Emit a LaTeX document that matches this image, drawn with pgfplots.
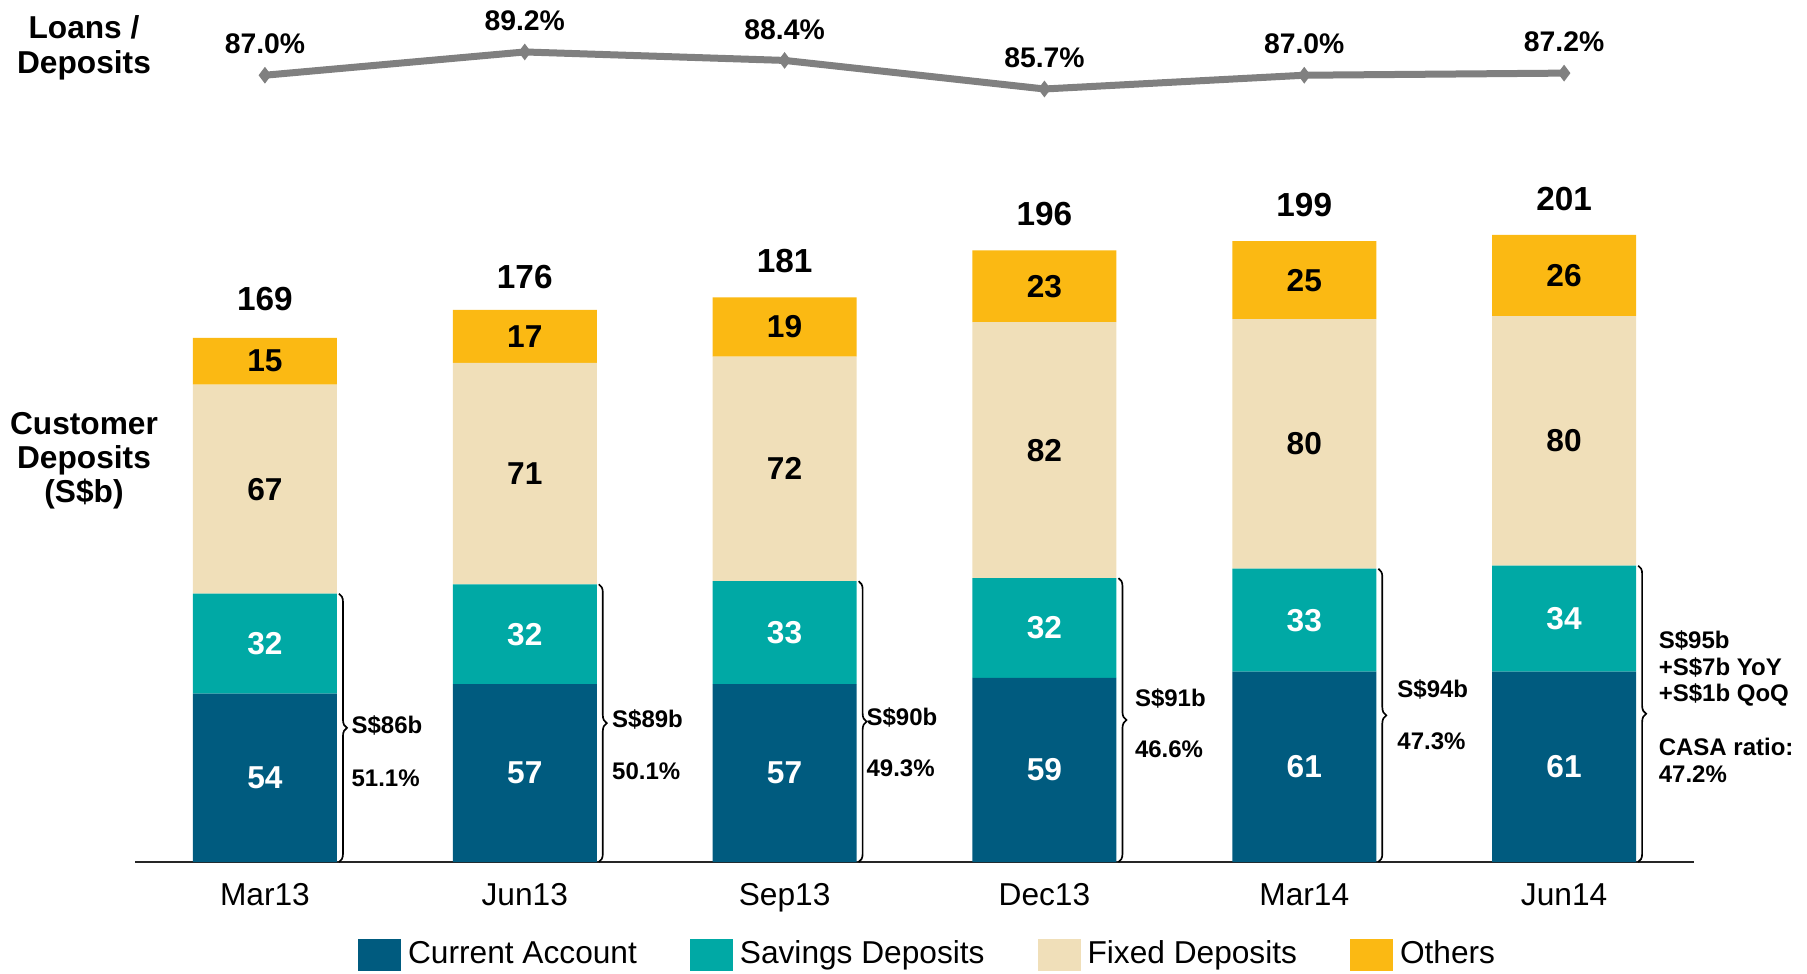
\documentclass[border=0pt]{standalone}
\usepackage{pgfplots}
\pgfplotsset{compat=1.18}
\usepackage{pgfplotstable}
\usepackage{fontspec}
\setmainfont{Liberation Sans}
\usetikzlibrary{decorations.pathreplacing}

\definecolor{caBlue}{RGB}{0,91,127}
\definecolor{saTeal}{RGB}{0,169,165}
\definecolor{fdBeige}{RGB}{240,223,185}
\definecolor{otAmber}{RGB}{251,185,19}
\definecolor{ldGray}{RGB}{128,128,128}

\newcommand\fs[2]{\fontsize{#1}{#2}\selectfont}

% customer deposits, S$b
\pgfplotstableread{
x ca sa fd ot tot
0 54 32 67 15 169
1 57 32 71 17 176
2 57 33 72 19 181
3 59 32 82 23 196
4 61 33 80 25 199
5 61 34 80 26 201
}\deposits

% loans / deposits ratio, %
\pgfplotstableread{
x ld
0 87.0
1 89.2
2 88.4
3 85.7
4 87.0
5 87.2
}\ratio

\pgfplotsset{
  /pgf/number format/assume math mode=true,
  base/.style={
    width=467.7pt, height=205.92pt, scale only axis,
    at={(40.5pt,33.3pt)}, anchor=south west,
    xmin=-0.5, xmax=5.5, ymin=0, ymax=220,
  },
}

\begin{document}
\begin{tikzpicture}
\path[use as bounding box] (0,0) rectangle (542.1pt,291.9pt);

% stacked bars
\begin{axis}[base,
    ybar stacked, bar width=43.2pt,
    axis x line*=bottom, axis y line=none,
    x axis line style={-, black!85, line width=0.6pt},
    xtick={0,...,5},
    xticklabels={Mar13,Jun13,Sep13,Dec13,Mar14,Jun14},
    major tick length=0pt,
    xticklabel style={font=\fs{9.5}{11}, yshift=-3pt},
    legend columns=4,
    legend image code/.code={\fill[#1] (0pt,-4.8pt) rectangle (12.9pt,4.8pt);},
    legend style={draw=none, fill=none, font=\fs{9.5}{11},
      at={(0.51,-0.1355)}, anchor=center,
      /tikz/every even column/.append style={column sep=14pt}},
]
\addplot[fill=caBlue, draw=none] table[x=x, y=ca] {\deposits};
\addlegendentry{Current Account}
\addplot[fill=saTeal, draw=none] table[x=x, y=sa] {\deposits};
\addlegendentry{Savings Deposits}
\addplot[fill=fdBeige, draw=none] table[x=x, y=fd] {\deposits};
\addlegendentry{Fixed Deposits}
\addplot[fill=otAmber, draw=none] table[x=x, y=ot] {\deposits};
\addlegendentry{Others}
\end{axis}

% segment labels, totals and CASA braces
\begin{axis}[base, hide axis, clip=false,
    nodes near coords, point meta=explicit,
    every node near coord/.style={anchor=center, font=\bfseries\fs{9.5}{11}},
]
\addplot[draw=none, mark=none, every node near coord/.append style={text=white}]
  table[x=x, y expr=\thisrow{ca}/2, meta=ca] {\deposits};
\addplot[draw=none, mark=none, every node near coord/.append style={text=white}]
  table[x=x, y expr=\thisrow{ca}+\thisrow{sa}/2, meta=sa] {\deposits};
\addplot[draw=none, mark=none]
  table[x=x, y expr=\thisrow{ca}+\thisrow{sa}+\thisrow{fd}/2, meta=fd] {\deposits};
\addplot[draw=none, mark=none]
  table[x=x, y expr=\thisrow{ca}+\thisrow{sa}+\thisrow{fd}+\thisrow{ot}/2, meta=ot] {\deposits};
\addplot[draw=none, mark=none,
    every node near coord/.append style={yshift=10.8pt, font=\bfseries\fs{10}{12}}]
  table[x=x, y=tot, meta=tot] {\deposits};

\tikzset{br/.style={decorate, decoration={brace, amplitude=2.4pt}, line width=0.5pt},
         bt/.style={anchor=west, inner sep=0pt, font=\bfseries\fs{7.2}{8}, align=left}}
\draw[br] (axis cs:0.285,86) -- (axis cs:0.285,0);
\draw[br] (axis cs:1.285,89) -- (axis cs:1.285,0);
\draw[br] (axis cs:2.285,90) -- (axis cs:2.285,0);
\draw[br] (axis cs:3.285,91) -- (axis cs:3.285,0);
\draw[br] (axis cs:4.285,94) -- (axis cs:4.285,0);
\draw[br] (axis cs:5.285,95) -- (axis cs:5.285,0);

\node[bt] at (axis cs:0.331,43.6) {S\$86b};
\node[bt] at (axis cs:0.331,26.9) {51.1\%};
\node[bt] at (axis cs:1.334,45.8) {S\$89b};
\node[bt] at (axis cs:1.334,29.2) {50.1\%};
\node[bt] at (axis cs:2.313,46.2) {S\$90b};
\node[bt] at (axis cs:2.313,29.9) {49.3\%};
\node[bt] at (axis cs:3.346,52.4) {S\$91b};
\node[bt] at (axis cs:3.346,36.2) {46.6\%};
\node[bt] at (axis cs:4.356,55.4) {S\$94b};
\node[bt] at (axis cs:4.356,38.8) {47.3\%};
\node[bt] at (axis cs:5.362,62.0) {S\$95b\\+S\$7b YoY\\+S\$1b QoQ};
\node[bt] at (axis cs:5.362,32.5) {CASA ratio:\\47.2\%};
\end{axis}

% loans / deposits line
\begin{axis}[width=467.7pt, height=15.87pt, scale only axis,
    at={(40.5pt,262.98pt)}, anchor=south west,
    xmin=-0.5, xmax=5.5, ymin=85, ymax=90, hide axis, clip=false]
\addplot[ldGray, line width=2.1pt, mark=diamond*, mark size=2.2pt,
    mark options={line width=0.4pt},
    nodes near coords={\pgfmathprintnumber[fixed, fixed zerofill, precision=1]{\pgfplotspointmeta}\%},
    every node near coord/.style={anchor=center, yshift=9.3pt, text=black,
      font=\bfseries\fs{8.5}{10}}]
  table[x=x, y=ld] {\ratio};
\end{axis}

\node[align=center, font=\bfseries\fs{9.5}{10.4}] at (25.2pt,277.5pt) {Loans /\\Deposits};
\node[align=center, font=\bfseries\fs{9.5}{10.2}] at (25.2pt,153.6pt) {Customer\\Deposits\\(S\$b)};
\end{tikzpicture}
\end{document}
